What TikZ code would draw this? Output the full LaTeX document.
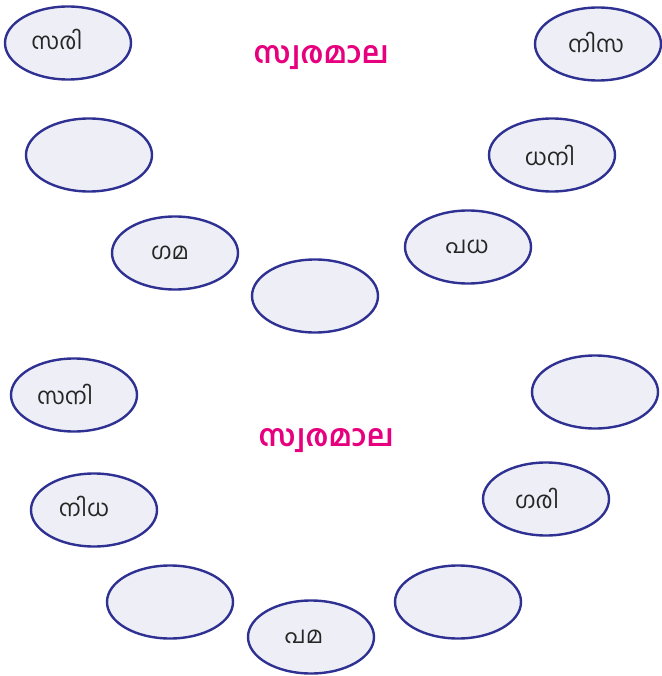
\documentclass[tikz,border=0pt]{standalone}
\usepackage{fontspec}
\newfontfamily\mal[Script=Malayalam]{Hind Kochi}
\definecolor{ringblue}{HTML}{2E3192}
\definecolor{ringfill}{HTML}{EEEEF6}
\definecolor{titlemag}{HTML}{E6007E}
\begin{document}
\begin{tikzpicture}[x=1pt,y=-1pt,
  oval/.style={ellipse,draw=ringblue,fill=ringfill,line width=2.4pt,minimum width=126pt,minimum height=73pt,inner sep=0pt},
  lbl/.style={font=\mal\fontsize{23}{23}\selectfont,text=black!85},
  ttl/.style={font=\mal\bfseries\fontsize{30}{30}\selectfont,text=titlemag}]
\usetikzlibrary{shapes.geometric}
\useasboundingbox (0,0) rectangle (661,676);
% top group
\node[oval] (a1) at (68,43) {};
\node[oval] (a2) at (598,44) {};
\node[oval] (a3) at (89,155) {};
\node[oval] (a4) at (552,155) {};
\node[oval] (a5) at (175,253) {};
\node[oval] (a6) at (468,247) {};
\node[oval] (a7) at (315,296) {};
\node[lbl] (t1) at (57,39) {സരി};
\node[lbl] (t2) at (596,42) {നിസ};
\node[lbl] (t4) at (550,155) {ധനി};
\node[lbl] (t5) at (170,253) {ഗമ};
\node[lbl] (t6) at (467,247) {പധ};
\node[ttl] (h1) at (321,58) {സ്വരമാല};
% bottom group
\node[oval] (b1) at (74,395) {};
\node[oval] (b2) at (595,392) {};
\node[oval] (b3) at (94,510) {};
\node[oval] (b4) at (546,499) {};
\node[oval] (b5) at (170,602) {};
\node[oval] (b6) at (311,637) {};
\node[oval] (b7) at (458,602) {};
\node[lbl] (s1) at (65,394) {സനി};
\node[lbl] (s3) at (84,506) {നിധ};
\node[lbl] (s4) at (537,498) {ഗരി};
\node[lbl] (s6) at (304,637) {പമ};
\node[ttl] (h2) at (326,441) {സ്വരമാല};
\end{tikzpicture}
\end{document}
